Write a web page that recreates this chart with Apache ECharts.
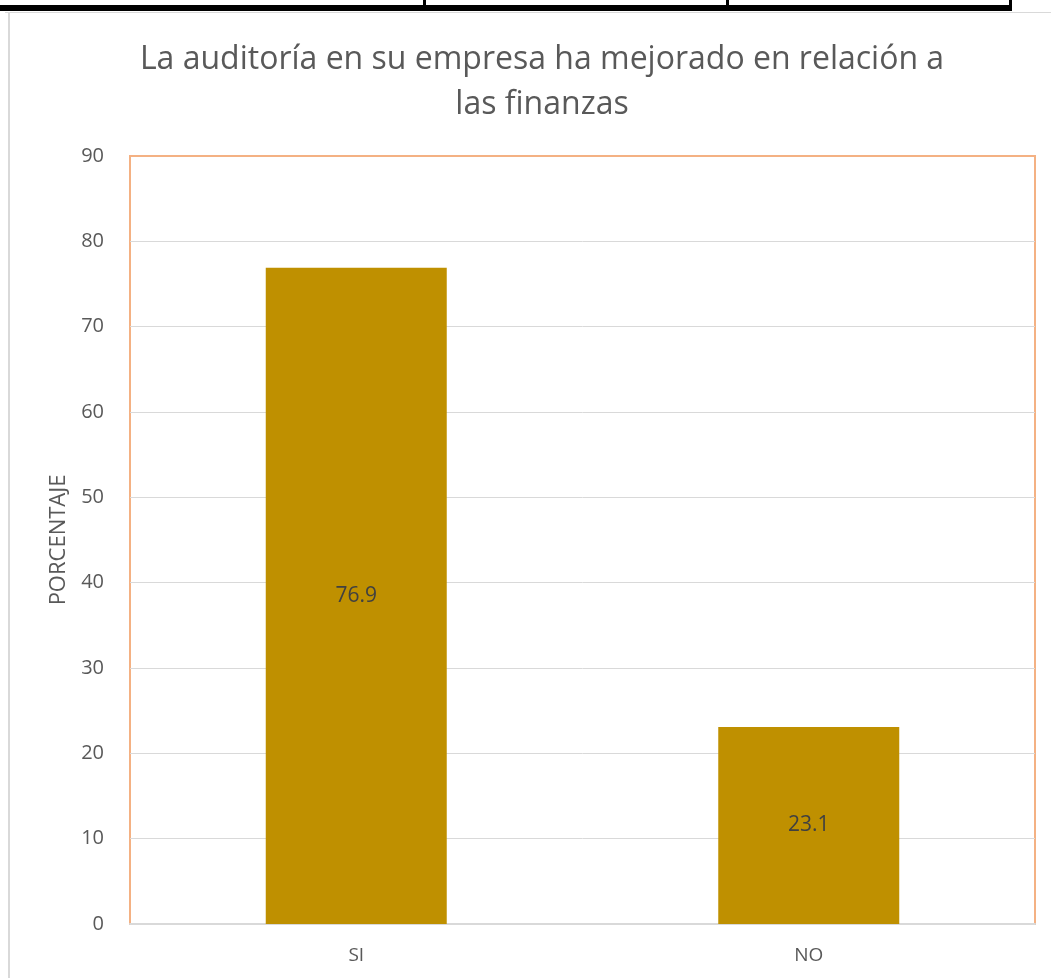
<!DOCTYPE html>
<html>
<head>
<meta charset="utf-8">
<script src="https://cdn.jsdelivr.net/npm/echarts@6/dist/echarts.min.js"></script>
<style>
    html, body { margin: 0; padding: 0; background: #fff; }
    #wrap { position: relative; width: 1051px; height: 978px; overflow: hidden; }
    #chart { position: absolute; left: 0; top: 0; width: 1051px; height: 978px; }
    .ln { position: absolute; background: #000; }
    .gr { position: absolute; background: #d9d9d9; }
</style>
</head>
<body>
<div id="wrap">
    <div id="chart"></div>
    <!-- table fragment above the chart -->
    <div class="ln" style="left:0;top:5px;width:1012px;height:6px"></div>
    <div class="ln" style="left:423px;top:0;width:3px;height:6px"></div>
    <div class="ln" style="left:726px;top:0;width:3px;height:6px"></div>
    <div class="ln" style="left:1009px;top:0;width:3px;height:6px"></div>
    <!-- chart frame -->
    <div class="gr" style="left:5px;top:12px;width:1046px;height:1px"></div>
    <div class="gr" style="left:8px;top:12px;width:2px;height:966px"></div>
</div>
<script>
var categories = ['SI', 'NO'];
var porcentaje = [76.9, 23.1];
var yTicks = [0, 90, 10];

var chart = echarts.init(document.getElementById('chart'));
var option = {
    animation: false,
    title: {
        text: 'La auditoría en su empresa ha mejorado en relación a\nlas finanzas',
        left: 537,
        top: 32,
        textAlign: 'center',
        textStyle: {
            fontFamily: 'Open Sans',
            fontSize: 32,
            fontWeight: 'normal',
            color: '#595959',
            lineHeight: 45
        }
    },
    grid: {
        left: 130,
        right: 16,
        top: 156,
        bottom: 54,
        show: true,
        borderColor: '#f4b183',
        borderWidth: 2,
        containLabel: false
    },
    xAxis: {
        type: 'category',
        data: categories,
        axisLine: { lineStyle: { color: '#d9d9d9', width: 2 } },
        axisTick: { show: false },
        axisLabel: {
            fontFamily: 'Open Sans',
            fontSize: 19,
            color: '#595959',
            margin: 22
        }
    },
    yAxis: {
        type: 'value',
        min: yTicks[0],
        max: yTicks[1],
        interval: yTicks[2],
        name: 'PORCENTAJE',
        nameLocation: 'middle',
        nameGap: 60,
        nameTextStyle: {
            fontFamily: 'Open Sans',
            fontSize: 22,
            color: '#595959'
        },
        axisLine: { show: false },
        axisTick: { show: false },
        axisLabel: {
            fontFamily: 'Open Sans',
            fontSize: 20,
            color: '#595959',
            margin: 26
        },
        splitLine: {
            showMaxLine: false,
            lineStyle: { color: '#d9d9d9', width: 1 }
        }
    },
    series: [{
        type: 'bar',
        data: porcentaje,
        barWidth: '40%',
        itemStyle: { color: '#bf9000' },
        label: {
            show: true,
            position: 'inside',
            fontFamily: 'Open Sans',
            fontSize: 21,
            color: '#404040'
        }
    }]
};
chart.setOption(option);
window.onresize = function () {
    chart.resize();
};
</script>
</body>
</html>
